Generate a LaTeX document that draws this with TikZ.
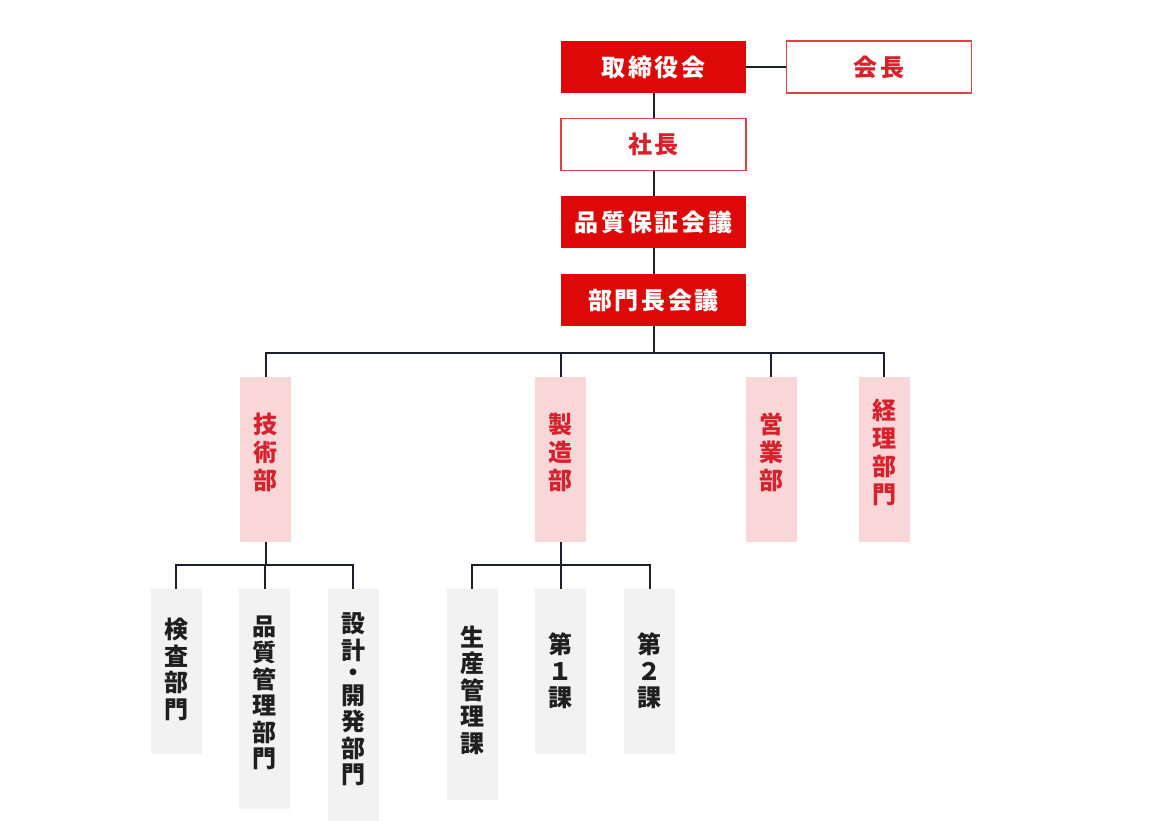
\documentclass[tikz,border=0pt]{standalone}
\usepackage{fontspec}
\usepackage{tikz}
\newfontfamily\jpwide{Noto Sans CJK JP}[LetterSpace=11]
\newfontfamily\jptall{Noto Sans CJK JP}
\definecolor{boardred}{RGB}{221,8,8}
\definecolor{textred}{RGB}{214,34,44}
\definecolor{edgered}{RGB}{226,64,68}
\definecolor{deptpink}{RGB}{249,214,216}
\definecolor{secgray}{RGB}{242,242,242}
\definecolor{linkcol}{RGB}{28,31,46}

\begin{document}
\begin{tikzpicture}[x=1pt,y=-1pt,
    topbox/.style={minimum width=185pt, minimum height=52pt, inner sep=0pt,
      font=\jpwide\bfseries\fontsize{24}{28}\selectfont},
    redbox/.style={topbox, fill=boardred, text=white},
    openbox/.style={topbox, fill=white, draw=edgered, line width=1.2pt, text=textred},
    lift/.style={text depth=#1},
    deptbox/.style={fill=deptpink, text=textred, minimum width=51pt, minimum height=165pt,
      inner sep=0pt, align=center, lift=16pt, font=\jptall\bfseries\fontsize{24}{28}\selectfont},
    secbox/.style={fill=secgray, text=black!88, minimum width=51pt, inner sep=0pt,
      align=center, font=\jptall\bfseries\fontsize{24}{26.5}\selectfont},
    conn/.style={linkcol, line width=2pt}]
  \useasboundingbox (0,0) rectangle (1170,820);

  % top of the chart
  \node[redbox] (board) at (653.5,67) {取締役会};
  \node[openbox] (chair) at (879,67) {会長};
  \node[openbox] (pres) at (653.5,144.5) {社長};
  \node[redbox] (qa) at (653.5,222) {品質保証会議};
  \node[redbox] (heads) at (653.5,300) {部門長会議};

  % departments
  \node[deptbox] (tech) at (265.5,459.5) {技\\術\\部};
  \node[deptbox] (mfg) at (560.5,459.5) {製\\造\\部};
  \node[deptbox] (sales) at (771,459.5) {営\\業\\部};
  \node[deptbox] (acct) at (884,459.5) {経\\理\\部\\門};

  % sections
  \node[secbox, minimum height=165pt, lift=7pt] (insp) at (176,671.5) {検\\査\\部\\門};
  \node[secbox, minimum height=220pt, lift=15pt] (qc) at (264.5,699) {品\\質\\管\\理\\部\\門};
  \node[secbox, minimum height=240pt, lift=21pt] (design) at (353,709) {設\\計\\[-4pt]・\\[-4pt]開\\発\\部\\門};
  \node[secbox, minimum height=211pt, lift=11pt] (prod) at (472,694.5) {生\\産\\管\\理\\課};
  \node[secbox, minimum height=165pt, lift=3pt] (sec1) at (560.5,671.5) {第\\１\\課};
  \node[secbox, minimum height=165pt, lift=3pt] (sec2) at (649.5,671.5) {第\\２\\課};

  % connectors
  \draw[conn] (board.east) -- (chair.west);
  \draw[conn] (board.south) -- (pres.north);
  \draw[conn] (pres.south) -- (qa.north);
  \draw[conn] (qa.south) -- (heads.north);
  \foreach \d in {tech,mfg,sales,acct}
    \draw[conn] (heads.south) -- ++(0,27) -| (\d.north);
  \foreach \s in {insp,qc,design}
    \draw[conn] (tech.south) -- ++(0,23) -| (\s.north);
  \foreach \s in {prod,sec1,sec2}
    \draw[conn] (mfg.south) -- ++(0,23) -| (\s.north);
\end{tikzpicture}
\end{document}
